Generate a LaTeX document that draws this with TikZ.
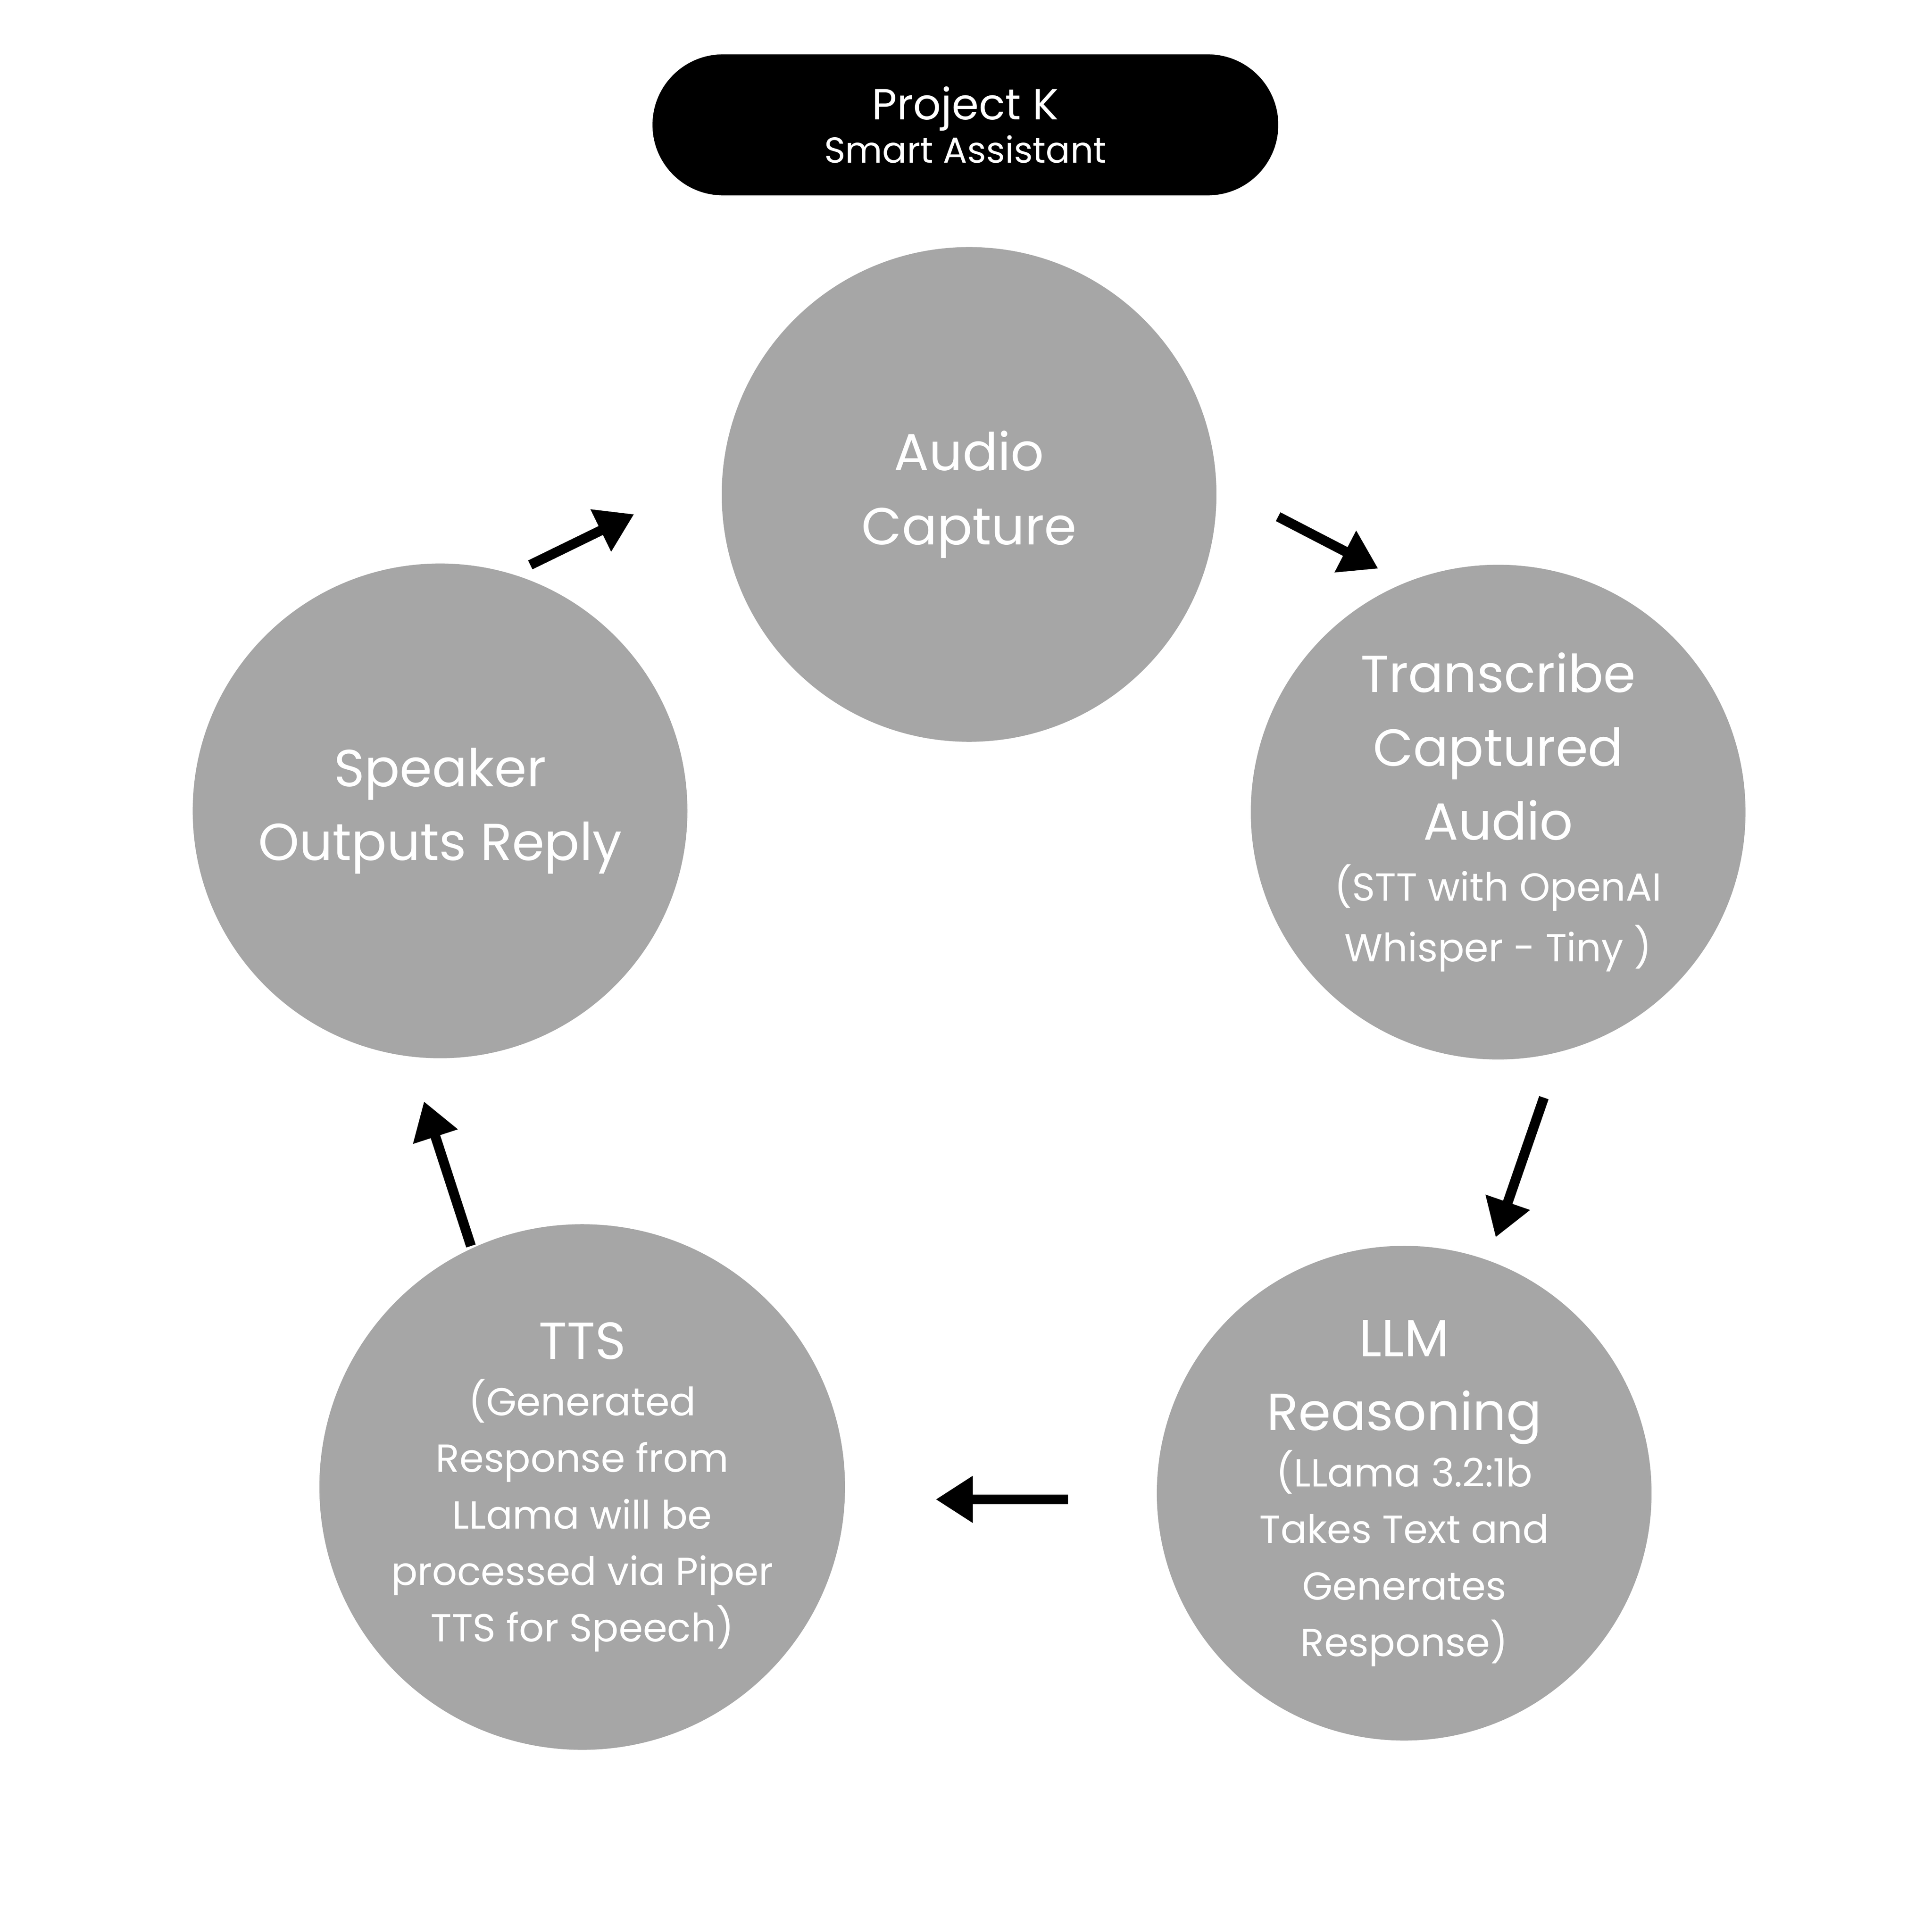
\documentclass[tikz,border=0pt]{standalone}
\usepackage{fontspec}
\setmainfont{Poppins}
\usetikzlibrary{arrows.meta}
\definecolor{cgray}{HTML}{A6A6A6}
\begin{document}
\begin{tikzpicture}[x=0.01cm,y=-0.01cm,
  circ/.style={circle,fill=cgray,text=white,align=center,inner sep=0pt,minimum size=4cm,font=\fontsize{12}{17}\selectfont},
  arr/.style={line width=0.08cm,-{Triangle[length=0.3cm,width=0.36cm]}},
  sm/.style={}]
\useasboundingbox (0,0) rectangle (1563,1563);
\fill[white] (0,0) rectangle (1563,1563);
\node[fill=black,rounded corners=0.57cm,minimum width=5.06cm,minimum height=1.14cm,text=white,align=center,inner sep=0pt] (title) at (781,101)
  {{\fontsize{10}{14}\selectfont Project K}\\[-2pt]{\fontsize{8.3}{11}\selectfont Smart Assistant}};
\node[circ] (audio) at (784,400) {Audio\\Capture};
\node[circ] (trans) at (1212,657) {Transcribe\\Captured\\Audio\\[-3pt]{\fontsize{9}{12.5}\selectfont (STT with OpenAI}\\[-3pt]{\fontsize{9}{12.5}\selectfont Whisper - Tiny )}};
\node[circ] (llm) at (1136,1208) {LLM\\Reasoning\\[-4pt]{\fontsize{9}{12.5}\selectfont (LLama 3.2:1b}\\[-4pt]{\fontsize{9}{12.5}\selectfont Takes Text and}\\[-4pt]{\fontsize{9}{12.5}\selectfont Generates}\\[-4pt]{\fontsize{9}{12.5}\selectfont Response)}};
\node[circ,minimum size=4.25cm] (tts) at (471,1203) {TTS\\[-4pt]{\fontsize{9}{12.5}\selectfont (Generated}\\[-4pt]{\fontsize{9}{12.5}\selectfont Response from}\\[-4pt]{\fontsize{9}{12.5}\selectfont LLama will be}\\[-4pt]{\fontsize{9}{12.5}\selectfont processed via Piper}\\[-4pt]{\fontsize{9}{12.5}\selectfont TTS for Speech)}};
\node[circ] (spk) at (356,656) {Speaker\\Outputs Reply};
\coordinate (a1s) at (1034,418); \coordinate (a1e) at (1115,460);
\coordinate (a2s) at (1249,888); \coordinate (a2e) at (1210,1001);
\coordinate (a3s) at (864,1213); \coordinate (a3e) at (757,1213);
\coordinate (a4s) at (381,1008); \coordinate (a4e) at (343,891);
\coordinate (a5s) at (429,457); \coordinate (a5e) at (513,416);
\draw[arr] (a1s) -- (a1e);
\draw[arr] (a2s) -- (a2e);
\draw[arr] (a3s) -- (a3e);
\draw[arr] (a4s) -- (a4e);
\draw[arr] (a5s) -- (a5e);
\end{tikzpicture}
\end{document}
